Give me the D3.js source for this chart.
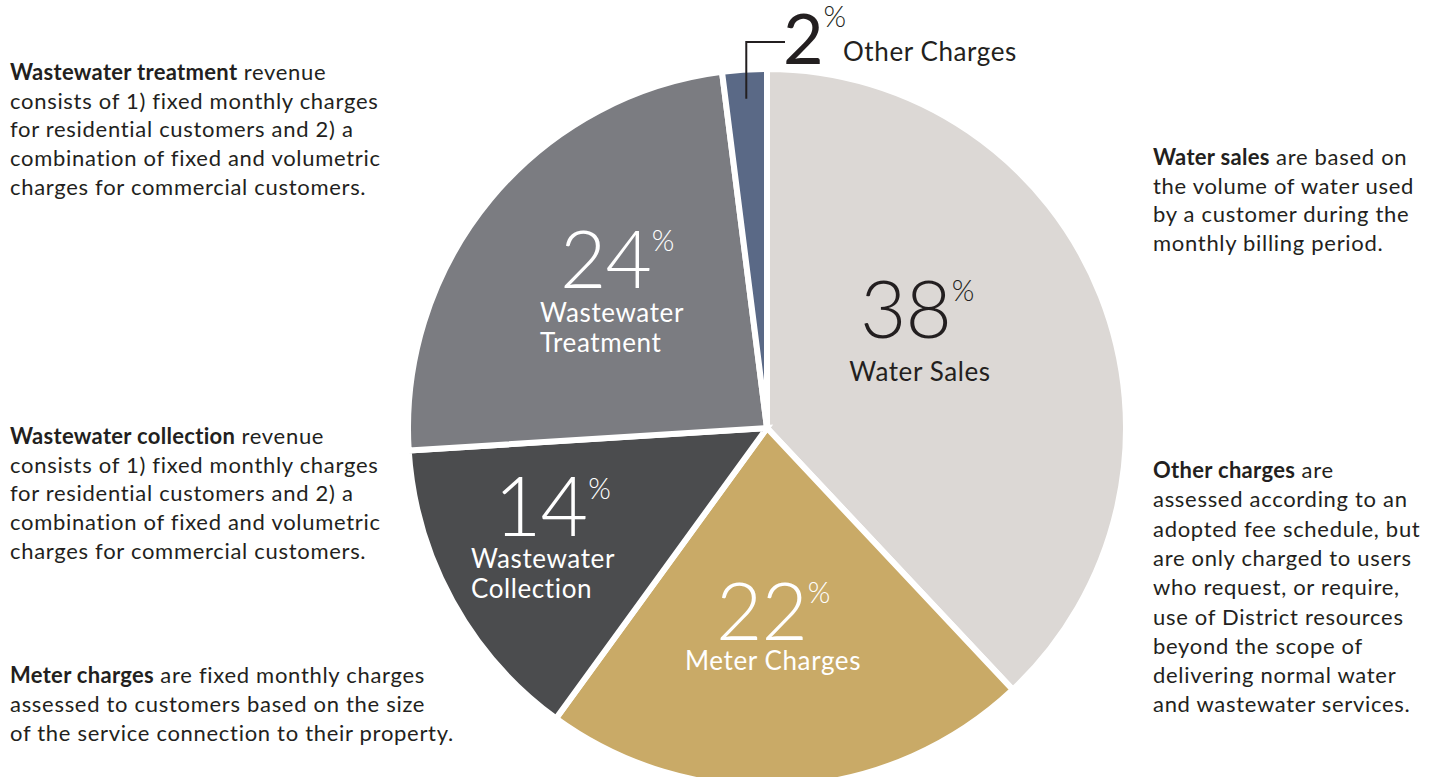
<!DOCTYPE html>
<html>
<head>
<meta charset="utf-8">
<script src="https://cdn.jsdelivr.net/npm/d3@7"></script>
<style>
  body { margin: 0; background: #fff; }
  text { font-family: Lato, "Open Sans", sans-serif; }
  .note { font-size: 22px; fill: #231f20; letter-spacing: 0.7px; }
  .note .lead { font-weight: 700; letter-spacing: 0.3px; }
  .name { font-size: 26px; font-weight: 400; letter-spacing: 0.6px; }
</style>
</head>
<body>
<div id="main_div"></div>
<script>
/** data **/
const categories = ["Water Sales", "Meter Charges", "Wastewater Collection", "Wastewater Treatment", "Other Charges"];
const shares = [38, 22, 14, 24, 2];
const sliceColors = ["#dcd8d5", "#c9aa67", "#4b4c4e", "#7b7c81", "#5a6986"];
const nameLines = [["Water Sales"], ["Meter Charges"], ["Wastewater", "Collection"], ["Wastewater", "Treatment"], ["Other Charges"]];

const noteLead = ["Wastewater treatment", "Wastewater collection", "Meter charges", "Water sales", "Other charges"];
const noteLines = [
    [" revenue", "consists of 1) fixed monthly charges", "for residential customers and 2) a", "combination of fixed and volumetric", "charges for commercial customers."],
    [" revenue", "consists of 1) fixed monthly charges", "for residential customers and 2) a", "combination of fixed and volumetric", "charges for commercial customers."],
    [" are fixed monthly charges", "assessed to customers based on the size", "of the service connection to their property."],
    [" are based on", "the volume of water used", "by a customer during the", "monthly billing period."],
    [" are", "assessed according to an", "adopted fee schedule, but", "are only charged to users", "who request, or require,", "use of District resources", "beyond the scope of", "delivering normal water", "and wastewater services."]
];

/** layout **/
const size = [1448, 777];
const center = [767, 428];
const radius = 359;
// label layout per slice: number left x / baseline, name anchor + x + first baseline
const labelLayout = [
    { nx: 860, ny: 338, fs: 80, fw: 300, anchor: "middle", x: 920, y: 381, color: "#231f20" },
    { nx: 716, ny: 640, fs: 80, fw: 300, anchor: "middle", x: 773, y: 670, color: "#fff" },
    { nx: 494, ny: 536, fs: 82, fw: 300, anchor: "start", x: 471, y: 568, color: "#fff" },
    { nx: 560, ny: 288, fs: 80, fw: 300, anchor: "start", x: 540, y: 322, color: "#fff" },
    { nx: 783, ny: 64, fs: 70, fw: 400, anchor: "start", x: 843, y: 61, color: "#231f20" }
];
const noteLayout = [[10, 80], [10, 444], [10, 683], [1153, 165], [1153, 478]];
const lineH = [28.7, 28.7, 29, 28.6, 29.3];

const svg = d3.select("#main_div").append("svg")
    .attr("width", size[0]).attr("height", size[1]);

const pie = d3.pie().sort(null).value(d => d);
const arcs = pie(shares);
const arc = d3.arc().innerRadius(0).outerRadius(radius);

const pieG = svg.append("g").attr("transform", `translate(${center[0]},${center[1]})`);
pieG.selectAll("path")
    .data(arcs)
    .enter().append("path")
    .attr("d", arc)
    .attr("fill", (d, i) => sliceColors[i])
    .attr("stroke", "#fff")
    .attr("stroke-width", 6);

/** leader line for the small slice **/
const small = arcs[4];
const mid = (small.startAngle + small.endAngle) / 2;
const lx = center[0] + 330 * Math.sin(mid);
const ly = center[1] - 330 * Math.cos(mid);
svg.append("path")
    .attr("d", `M${lx},${ly}V42H785`)
    .attr("fill", "none")
    .attr("stroke", "#231f20")
    .attr("stroke-width", 2);

/** slice labels **/
labelLayout.forEach((l, i) => {
    const num = svg.append("text")
        .attr("x", l.nx).attr("y", l.ny)
        .style("font-size", l.fs + "px")
        .style("font-weight", l.fw)
        .style("letter-spacing", "-1px")
        .attr("fill", l.color)
        .text(shares[i]);
    const w = num.node().getComputedTextLength();
    svg.append("text")
        .attr("x", l.nx + w + 1).attr("y", l.ny - 37)
        .style("font-size", "29px")
        .style("font-weight", 300)
        .attr("fill", l.color)
        .text("%");
    nameLines[i].forEach((s, j) => {
        svg.append("text")
            .attr("class", "name")
            .attr("x", l.x).attr("y", l.y + j * 29.5)
            .attr("text-anchor", l.anchor)
            .attr("fill", l.color)
            .text(s);
    });
});

/** side notes **/
noteLayout.forEach((p, i) => {
    const g = svg.append("g").attr("class", "note");
    noteLines[i].forEach((s, j) => {
        const t = g.append("text").attr("x", p[0]).attr("y", p[1] + j * lineH[i]);
        if (j === 0) {
            t.append("tspan").attr("class", "lead").text(noteLead[i]);
        }
        t.append("tspan").text(s);
    });
});
</script>
</body>
</html>
